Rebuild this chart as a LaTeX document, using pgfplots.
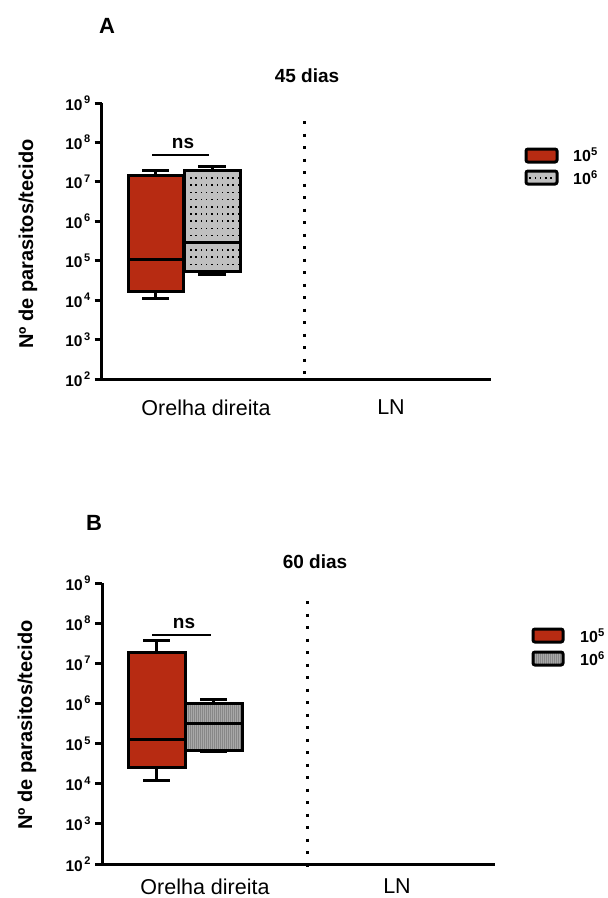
\documentclass[border=0pt]{standalone}
\usepackage{fontspec}
\setmainfont{Liberation Sans}
\usepackage{pgfplots}
\pgfplotsset{compat=1.18}
\usepgfplotslibrary{statistics}
\usetikzlibrary{patterns}
\definecolor{myred}{RGB}{183,43,18}
\definecolor{mygrayA}{RGB}{192,192,192}
\definecolor{mygrayB}{RGB}{168,168,168}
\definecolor{mylineB}{RGB}{135,135,135}
\pgfdeclarepatternformonly{mydots}{\pgfqpoint{-1pt}{-1pt}}{\pgfqpoint{1pt}{1pt}}{\pgfqpoint{5.3pt}{7.2pt}}{%
  \pgfpathrectangle{\pgfqpoint{-0.75pt}{-0.75pt}}{\pgfqpoint{1.5pt}{1.5pt}}\pgfusepath{fill}}
\pgfdeclarepatternformonly{myvlines}{\pgfqpoint{0pt}{-1pt}}{\pgfqpoint{2pt}{1pt}}{\pgfqpoint{2pt}{1pt}}{%
  \pgfpathrectangle{\pgfqpoint{0pt}{-1pt}}{\pgfqpoint{0.9pt}{2pt}}\pgfusepath{fill}}
\newcommand\pw[1]{10\hspace{1.5pt}\raisebox{0.42em}{\fontsize{11}{11}\selectfont #1}}
% values are log10 of parasite counts (axis drawn in decades)
\pgfplotsset{
  panel/.style={
    scale only axis, anchor=south west,
    ymin=2, ymax=9,
    axis x line=bottom, axis y line=left,
    axis line style={line width=3pt, -},
    ytick={2,3,4,5,6,7,8,9},
    yticklabels={\pw{2},\pw{3},\pw{4},\pw{5},\pw{6},\pw{7},\pw{8},\pw{9}},
    y tick label style={font=\fontsize{15.5}{15.5}\selectfont\bfseries, xshift=-1pt},
    ytick style={line width=3pt, black},
    major tick length=7pt, tick align=outside,
    xtick style={draw=none},
    boxplot/draw direction=y,
    clip=false,
  },
}
\begin{document}
\begin{tikzpicture}
\useasboundingbox (0pt,0pt) rectangle (608pt,-898pt);
% ---------------- Panel A ----------------
\node[font=\fontsize{22}{22}\selectfont\bfseries] at (107pt,-26pt) {A};
\node[font=\fontsize{19}{19}\selectfont\bfseries] at (307pt,-76pt) {45 dias};
\node[font=\fontsize{20}{20}\selectfont\bfseries, rotate=90] at (28pt,-244pt) {Nº de parasitos/tecido};
\begin{axis}[panel, at={(101.7pt,-379pt)}, width=389.3pt, height=276pt,
  xmin=101.7, xmax=491, xtick={206,391}, xticklabels={Orelha direita,LN},
  x tick label style={font=\fontsize{21.5}{21.5}\selectfont, yshift=-10pt}]
\addplot[draw=black, line width=3pt, boxplot/every box/.style={fill=myred},
  boxplot prepared={draw position=155.5, box extend=55, whisker extend=27,
  lower whisker=4.04, lower quartile=4.23, median=5.04,
  upper quartile=7.17, upper whisker=7.28}] coordinates {};
\addplot[draw=black, line width=3pt, boxplot/every box/.style={preaction={fill=mygrayA}, pattern=mydots},
  boxplot prepared={draw position=212, box extend=56, whisker extend=28,
  lower whisker=4.66, lower quartile=4.72, median=5.46,
  upper quartile=7.28, upper whisker=7.40}] coordinates {};
\addplot[black, line width=3pt, dash pattern=on 3pt off 9.5pt] coordinates {(304,8.54) (304,1.93)};
\end{axis}
\draw[line width=2pt] (152pt,-155pt) -- (209pt,-155pt);
\node[font=\fontsize{19}{19}\selectfont\bfseries] at (183pt,-143pt) {ns};
% legend A
\draw[line width=3pt, rounded corners=2pt, fill=myred] (526pt,-149pt) rectangle (557pt,-162pt);
\draw[line width=3pt, rounded corners=2pt, preaction={fill=mygrayA}, pattern=mydots] (526pt,-171pt) rectangle (557pt,-184pt);
\node[font=\fontsize{16}{16}\selectfont\bfseries, anchor=west, inner sep=0pt] at (573pt,-155pt) {10\textsuperscript{5}};
\node[font=\fontsize{16}{16}\selectfont\bfseries, anchor=west, inner sep=0pt] at (573pt,-178pt) {10\textsuperscript{6}};
% ---------------- Panel B ----------------
\node[font=\fontsize{22}{22}\selectfont\bfseries] at (94pt,-523pt) {B};
\node[font=\fontsize{19}{19}\selectfont\bfseries] at (315pt,-562pt) {60 dias};
\node[font=\fontsize{20}{20}\selectfont\bfseries, rotate=90] at (27pt,-725pt) {Nº de parasitos/tecido};
\begin{axis}[panel, at={(102pt,-864pt)}, width=393pt, height=281pt,
  xmin=102, xmax=495, xtick={205,397}, xticklabels={Orelha direita,LN},
  x tick label style={font=\fontsize{21.5}{21.5}\selectfont, yshift=-4pt}]
\addplot[draw=black, line width=3pt, boxplot/every box/.style={fill=myred},
  boxplot prepared={draw position=156.5, box extend=57, whisker extend=27,
  lower whisker=4.09, lower quartile=4.40, median=5.09,
  upper quartile=7.26, upper whisker=7.56}] coordinates {};
\addplot[draw=black, line width=3pt, boxplot/every box/.style={preaction={fill=mygrayB}, pattern=myvlines, pattern color=mylineB},
  boxplot prepared={draw position=213.5, box extend=57, whisker extend=27,
  lower whisker=4.80, lower quartile=4.82, median=5.49,
  upper quartile=6.01, upper whisker=6.11}] coordinates {};
\addplot[black, line width=3pt, dash pattern=on 3pt off 9.5pt] coordinates {(307,8.55) (307,1.93)};
\end{axis}
\draw[line width=2pt] (152pt,-635pt) -- (211pt,-635pt);
\node[font=\fontsize{19}{19}\selectfont\bfseries] at (184pt,-623pt) {ns};
% legend B
\draw[line width=3pt, rounded corners=2pt, fill=myred] (533pt,-629pt) rectangle (563pt,-642pt);
\draw[line width=3pt, rounded corners=2pt, preaction={fill=mygrayB}, pattern=myvlines, pattern color=mylineB] (533pt,-652pt) rectangle (563pt,-665pt);
\node[font=\fontsize{16}{16}\selectfont\bfseries, anchor=west, inner sep=0pt] at (580pt,-636pt) {10\textsuperscript{5}};
\node[font=\fontsize{16}{16}\selectfont\bfseries, anchor=west, inner sep=0pt] at (580pt,-659pt) {10\textsuperscript{6}};
\end{tikzpicture}
\end{document}
